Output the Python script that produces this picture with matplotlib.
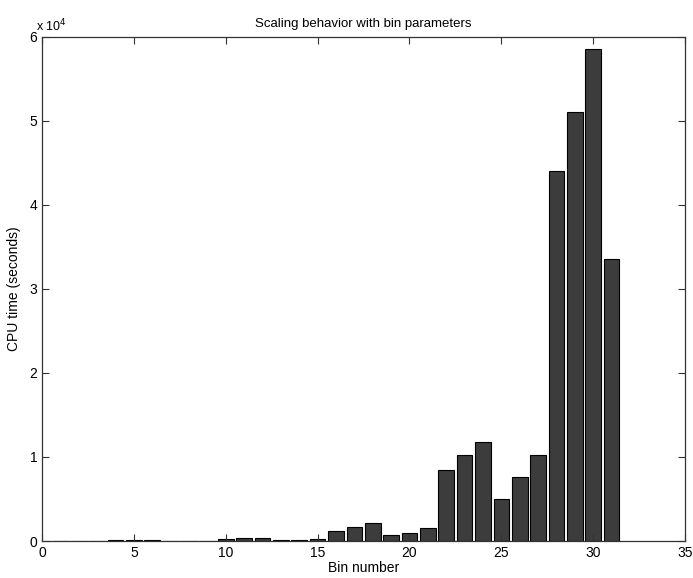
import numpy as np
import matplotlib
matplotlib.use('Agg')
import matplotlib.pyplot as plt
import matplotlib.ticker as ticker

bins = np.arange(1, 32)
cpu_time = [20, 20, 20, 80, 100, 80, 30, 40, 50, 250, 300, 300, 100, 150, 250,
            1250, 1700, 2100, 700, 1000, 1600, 8500, 10200, 11800, 5000, 7600,
            10200, 44000, 51000, 58500, 33500]
x_ticks = [0, 5, 10, 15, 20, 25, 30, 35]
y_ticks = [0, 1e4, 2e4, 3e4, 4e4, 5e4, 6e4]

plt.rcParams['font.family'] = ['Liberation Sans', 'DejaVu Sans']

fig = plt.figure(figsize=(6.93, 5.78), dpi=100)
ax = fig.add_axes([0.0606, 0.064, 0.928, 0.8725])

ax.bar(bins, cpu_time, width=0.85, color='#3c3c3c', edgecolor='black', linewidth=0.8)

ax.set_xlim(0, 35)
ax.set_ylim(0, 6e4)
ax.set_xticks(x_ticks)
ax.set_yticks(y_ticks)
ax.yaxis.set_major_formatter(ticker.FuncFormatter(lambda v, pos: f'{v / 1e4:g}'))
ax.tick_params(direction='in', top=True, right=True, length=5, labelsize=10, color='#333333')
for spine in ax.spines.values():
    spine.set_color('#333333')
    spine.set_linewidth(0.9)

ax.text(-0.01, 1.005, r'x 10$^4$', transform=ax.transAxes, fontsize=9, ha='left', va='bottom')
ax.set_title('Scaling behavior with bin parameters', fontsize=9.5, pad=7)
ax.set_xlabel('Bin number', fontsize=10, labelpad=1)
ax.set_ylabel('CPU time (seconds)', fontsize=10, labelpad=6)

fig.savefig('out.png', dpi=100)
